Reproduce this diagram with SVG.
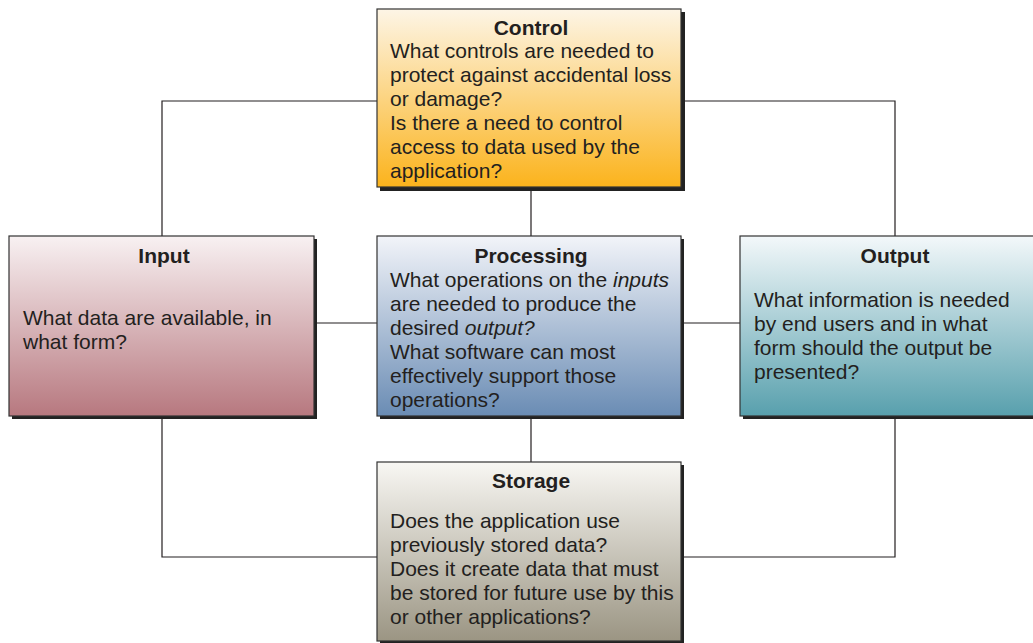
<svg xmlns="http://www.w3.org/2000/svg" width="1033" height="643" viewBox="0 0 1033 643">
<defs>
<linearGradient id="gControl" x1="0" y1="0" x2="0" y2="1"><stop offset="0" stop-color="#fdf5e6"/><stop offset="1" stop-color="#fbb31c"/></linearGradient>
<linearGradient id="gInput" x1="0" y1="0" x2="0" y2="1"><stop offset="0" stop-color="#f8f1f2"/><stop offset="1" stop-color="#b7787f"/></linearGradient>
<linearGradient id="gProc" x1="0" y1="0" x2="0" y2="1"><stop offset="0" stop-color="#f2f4f9"/><stop offset="1" stop-color="#6a8cb4"/></linearGradient>
<linearGradient id="gOutput" x1="0" y1="0" x2="0" y2="1"><stop offset="0" stop-color="#f3f8fa"/><stop offset="1" stop-color="#58a0ad"/></linearGradient>
<linearGradient id="gStorage" x1="0" y1="0" x2="0" y2="1"><stop offset="0" stop-color="#f8f7f3"/><stop offset="1" stop-color="#9b9583"/></linearGradient>
</defs>
<style>
.box{stroke:#333;stroke-width:1.2}
.shadow{fill:#222}
.title{font-family:"Liberation Sans",Arial,sans-serif;font-size:21px;font-weight:bold;fill:#231f20;text-anchor:middle}
.body{font-family:"Liberation Sans",Arial,sans-serif;font-size:21px;fill:#231f20}
.conn{stroke:#231f20;stroke-width:1.2;fill:none}
</style>
<rect width="1033" height="643" fill="#ffffff"/>
<g id="connectors">
<path class="conn" d="M377,101 H162 V236 M162,416 V557 H377 M681,101 H895 V236 M895,416 V557 H681 M531,188 V236 M531,416 V462 M314,323 H377 M681,323 H740"/>
</g>
<g id="control">
<rect class="shadow" x="380" y="12" width="305" height="179"/>
<rect class="box" x="377" y="9" width="304" height="178" fill="url(#gControl)"/>
<text class="title" x="531" y="35">Control</text>
<text class="body"><tspan x="390" y="58">What controls are needed to</tspan><tspan x="390" y="82">protect against accidental loss</tspan><tspan x="390" y="106">or damage?</tspan><tspan x="390" y="130">Is there a need to control</tspan><tspan x="390" y="154">access to data used by the</tspan><tspan x="390" y="178">application?</tspan></text>
</g>
<g id="input">
<rect class="shadow" x="12" y="239" width="305" height="180"/>
<rect class="box" x="9" y="236" width="305" height="180" fill="url(#gInput)"/>
<text class="title" x="164" y="263">Input</text>
<text class="body"><tspan x="23" y="325">What data are available, in</tspan><tspan x="23" y="349">what form?</tspan></text>
</g>
<g id="processing">
<rect class="shadow" x="380" y="239" width="304" height="180"/>
<rect class="box" x="377" y="236" width="304" height="180" fill="url(#gProc)"/>
<text class="title" x="531" y="263">Processing</text>
<text class="body"><tspan x="390" y="287">What operations on the <tspan font-style="italic">inputs</tspan></tspan><tspan x="390" y="311">are needed to produce the</tspan><tspan x="390" y="335">desired <tspan font-style="italic">output?</tspan></tspan><tspan x="390" y="359">What software can most</tspan><tspan x="390" y="383">effectively support those</tspan><tspan x="390" y="407">operations?</tspan></text>
</g>
<g id="output">
<rect class="shadow" x="743" y="239" width="300" height="180"/>
<rect class="box" x="740" y="236" width="300" height="180" fill="url(#gOutput)"/>
<text class="title" x="895" y="263">Output</text>
<text class="body"><tspan x="754" y="307">What information is needed</tspan><tspan x="754" y="331">by end users and in what</tspan><tspan x="754" y="355">form should the output be</tspan><tspan x="754" y="379">presented?</tspan></text>
</g>
<g id="storage">
<rect class="shadow" x="380" y="465" width="304" height="180"/>
<rect class="box" x="377" y="462" width="304" height="179" fill="url(#gStorage)"/>
<text class="title" x="531" y="488">Storage</text>
<text class="body"><tspan x="390" y="528">Does the application use</tspan><tspan x="390" y="552">previously stored data?</tspan><tspan x="390" y="576">Does it create data that must</tspan><tspan x="390" y="600">be stored for future use by this</tspan><tspan x="390" y="624">or other applications?</tspan></text>
</g>
</svg>
